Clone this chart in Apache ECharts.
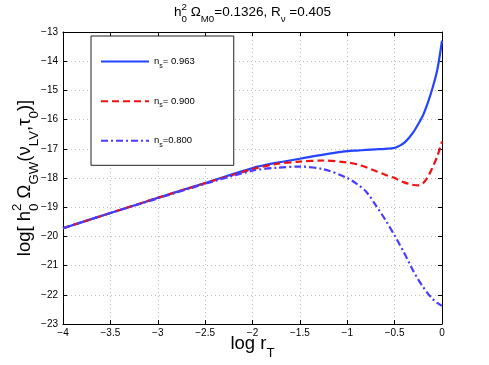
<!DOCTYPE html>
<html>
<head>
<meta charset="utf-8">
<script src="https://cdn.jsdelivr.net/npm/echarts@6/dist/echarts.min.js"></script>
<style>
  html, body { margin: 0; padding: 0; background: #fff; }
  #chart { width: 489px; height: 365px; }
</style>
</head>
<body>
<div id="chart"></div>
<script>
// x values: log r_T
const logR = [-4, -3.5, -3, -2.5, -2, -1.75, -1.5, -1.25, -1, -0.9, -0.8, -0.7, -0.6, -0.5,
  -0.45, -0.4, -0.35, -0.3, -0.25, -0.2, -0.15, -0.1, -0.05, 0];
// log[h0^2 Omega_GW] for the three spectral indices
const ns0963 = [-19.72, -19.2, -18.68, -18.17, -17.66, -17.48, -17.34, -17.2, -17.08, -17.06, -17.04, -17.02, -17.0, -16.97,
  -16.9, -16.8, -16.63, -16.42, -16.15, -15.85, -15.43, -14.92, -14.3, -13.3];
const ns0900 = [-19.72, -19.2, -18.68, -18.18, -17.7, -17.52, -17.44, -17.4, -17.47, -17.53, -17.63, -17.76, -17.89, -18.0,
  -18.08, -18.15, -18.2, -18.24, -18.25, -18.18, -17.97, -17.64, -17.26, -16.75];
const ns0800 = [-19.72, -19.2, -18.7, -18.2, -17.75, -17.65, -17.61, -17.7, -18.0, -18.2, -18.47, -18.93, -19.42, -19.97,
  -20.26, -20.56, -20.88, -21.2, -21.48, -21.73, -21.95, -22.14, -22.28, -22.38];
const legendLabels = ['= 0.963', '= 0.900', '=0.800'];

const FONT = '"Liberation Sans", Arial, Helvetica, sans-serif';
const mctx = document.createElement('canvas').getContext('2d');
function textW(t, size) {
  mctx.font = size + 'px ' + FONT;
  return mctx.measureText(t).width;
}

// lay out a tex-like string: parts are [text, kind], kind n / sup / sub / ss (stacked)
function mathRow(parts, size) {
  const small = size * 0.72;
  const kids = [];
  let x = 0;
  function put(t, s, dy) {
    kids.push({
      type: 'text', x: x, y: dy - s * 0.33,
      style: { text: t, font: s + 'px ' + FONT, fill: '#000', verticalAlign: 'middle', align: 'left' }
    });
  }
  parts.forEach(function (p) {
    const t = p[0], k = p[1];
    if (k === 'n') {
      put(t, size, 0); x += textW(t, size);
    } else if (k === 'sup') {
      put(t, small, -size * 0.5); x += textW(t, small);
    } else if (k === 'sub') {
      put(t, small, size * 0.42); x += textW(t, small);
    } else {
      put(t[0], small, -size * 0.5);
      put(t[1], small, size * 0.42);
      x += Math.max(textW(t[0], small), textW(t[1], small));
    }
  });
  return { kids: kids, width: x };
}

const titleRow = mathRow([['h', 'n'], [['2', '0'], 'ss'], [' \u03A9', 'n'], ['M0', 'sub'],
  ['=0.1326, R', 'n'], ['\u03BD', 'sub'], [' =0.405', 'n']], 13.5);
const yRow = mathRow([['log[ h', 'n'], [['2', '0'], 'ss'], [' \u03A9', 'n'], ['GW', 'sub'],
  ['(\u03BD', 'n'], ['LV', 'sub'], [',\u03C4', 'n'], ['0', 'sub'], [')]', 'n']], 18.5);
const xRow = mathRow([['log r', 'n'], ['T', 'sub']], 18.5);

const plotCx = 252.5, plotCy = 178;

function pairs(ys) {
  return logR.map(function (x, i) { return [x, ys[i]]; });
}
function minusFmt(v) {
  return v < 0 ? '\u2212' + Math.abs(v) : String(v);
}

const chart = echarts.init(document.getElementById('chart'));
const tickLab = { fontSize: 10, color: '#000', fontFamily: FONT };
const dotted = { show: true, lineStyle: { color: '#bdbdbd', type: [1, 3], width: 1 } };
const blackLine = { show: true, onZero: false, lineStyle: { color: '#000', width: 1 } };
const inTick = { show: true, inside: true, length: 4, lineStyle: { color: '#000' } };

const option = {
  animation: false,
  backgroundColor: '#fff',
  grid: { left: 63, right: 47, top: 32, bottom: 41 },
  xAxis: [
    { type: 'value', min: -4, max: 0, interval: 0.5, position: 'bottom',
      axisLine: blackLine, axisTick: inTick, splitLine: dotted,
      axisLabel: Object.assign({ margin: 4, formatter: minusFmt }, tickLab) },
    { type: 'value', min: -4, max: 0, interval: 0.5, position: 'top',
      axisLine: blackLine, axisTick: inTick, splitLine: { show: false }, axisLabel: { show: false } }
  ],
  yAxis: [
    { type: 'value', min: -23, max: -13, interval: 1, position: 'left',
      axisLine: blackLine, axisTick: inTick, splitLine: dotted,
      axisLabel: Object.assign({ margin: 5, formatter: minusFmt }, tickLab) },
    { type: 'value', min: -23, max: -13, interval: 1, position: 'right',
      axisLine: blackLine, axisTick: inTick, splitLine: { show: false }, axisLabel: { show: false } }
  ],
  legend: {
    orient: 'vertical', left: 91, top: 36,
    padding: [20, 39, 17, 9],
    itemWidth: 48, itemHeight: 14, itemGap: 26.5,
    backgroundColor: '#fff', borderColor: '#222', borderWidth: 1,
    itemStyle: { opacity: 0 },
    data: ['a', 'b', 'c'],
    formatter: function (name) {
      const i = ['a', 'b', 'c'].indexOf(name);
      return '{n|n}{s|s}{n|' + legendLabels[i] + '}';
    },
    textStyle: {
      rich: {
        n: { fontSize: 9.5, fontFamily: FONT, color: '#000' },
        s: { fontSize: 7, fontFamily: FONT, color: '#000', padding: [8, 0, 0, 0] }
      }
    }
  },
  series: [
    { name: 'a', type: 'line', data: pairs(ns0963), symbol: 'none', smooth: 0.3,
      itemStyle: { color: '#2345ff', opacity: 0 }, lineStyle: { color: '#2345ff', width: 2.2, type: 'solid' } },
    { name: 'b', type: 'line', data: pairs(ns0900), symbol: 'none', smooth: 0.3,
      itemStyle: { color: '#f01010', opacity: 0 }, lineStyle: { color: '#f01010', width: 2.2, type: [7, 4] } },
    { name: 'c', type: 'line', data: pairs(ns0800), symbol: 'none', smooth: 0.3,
      itemStyle: { color: '#4a3cff', opacity: 0 }, lineStyle: { color: '#4a3cff', width: 2.2, type: [7, 3, 2, 3] } }
  ],
  graphic: [
    { type: 'group', x: plotCx - titleRow.width / 2, y: 17, children: titleRow.kids },
    { type: 'group', x: plotCx - xRow.width / 2, y: 350, children: xRow.kids },
    { type: 'group', x: 31, y: plotCy + yRow.width / 2, rotation: Math.PI / 2, children: yRow.kids }
  ]
};
chart.setOption(option);
</script>
</body>
</html>
